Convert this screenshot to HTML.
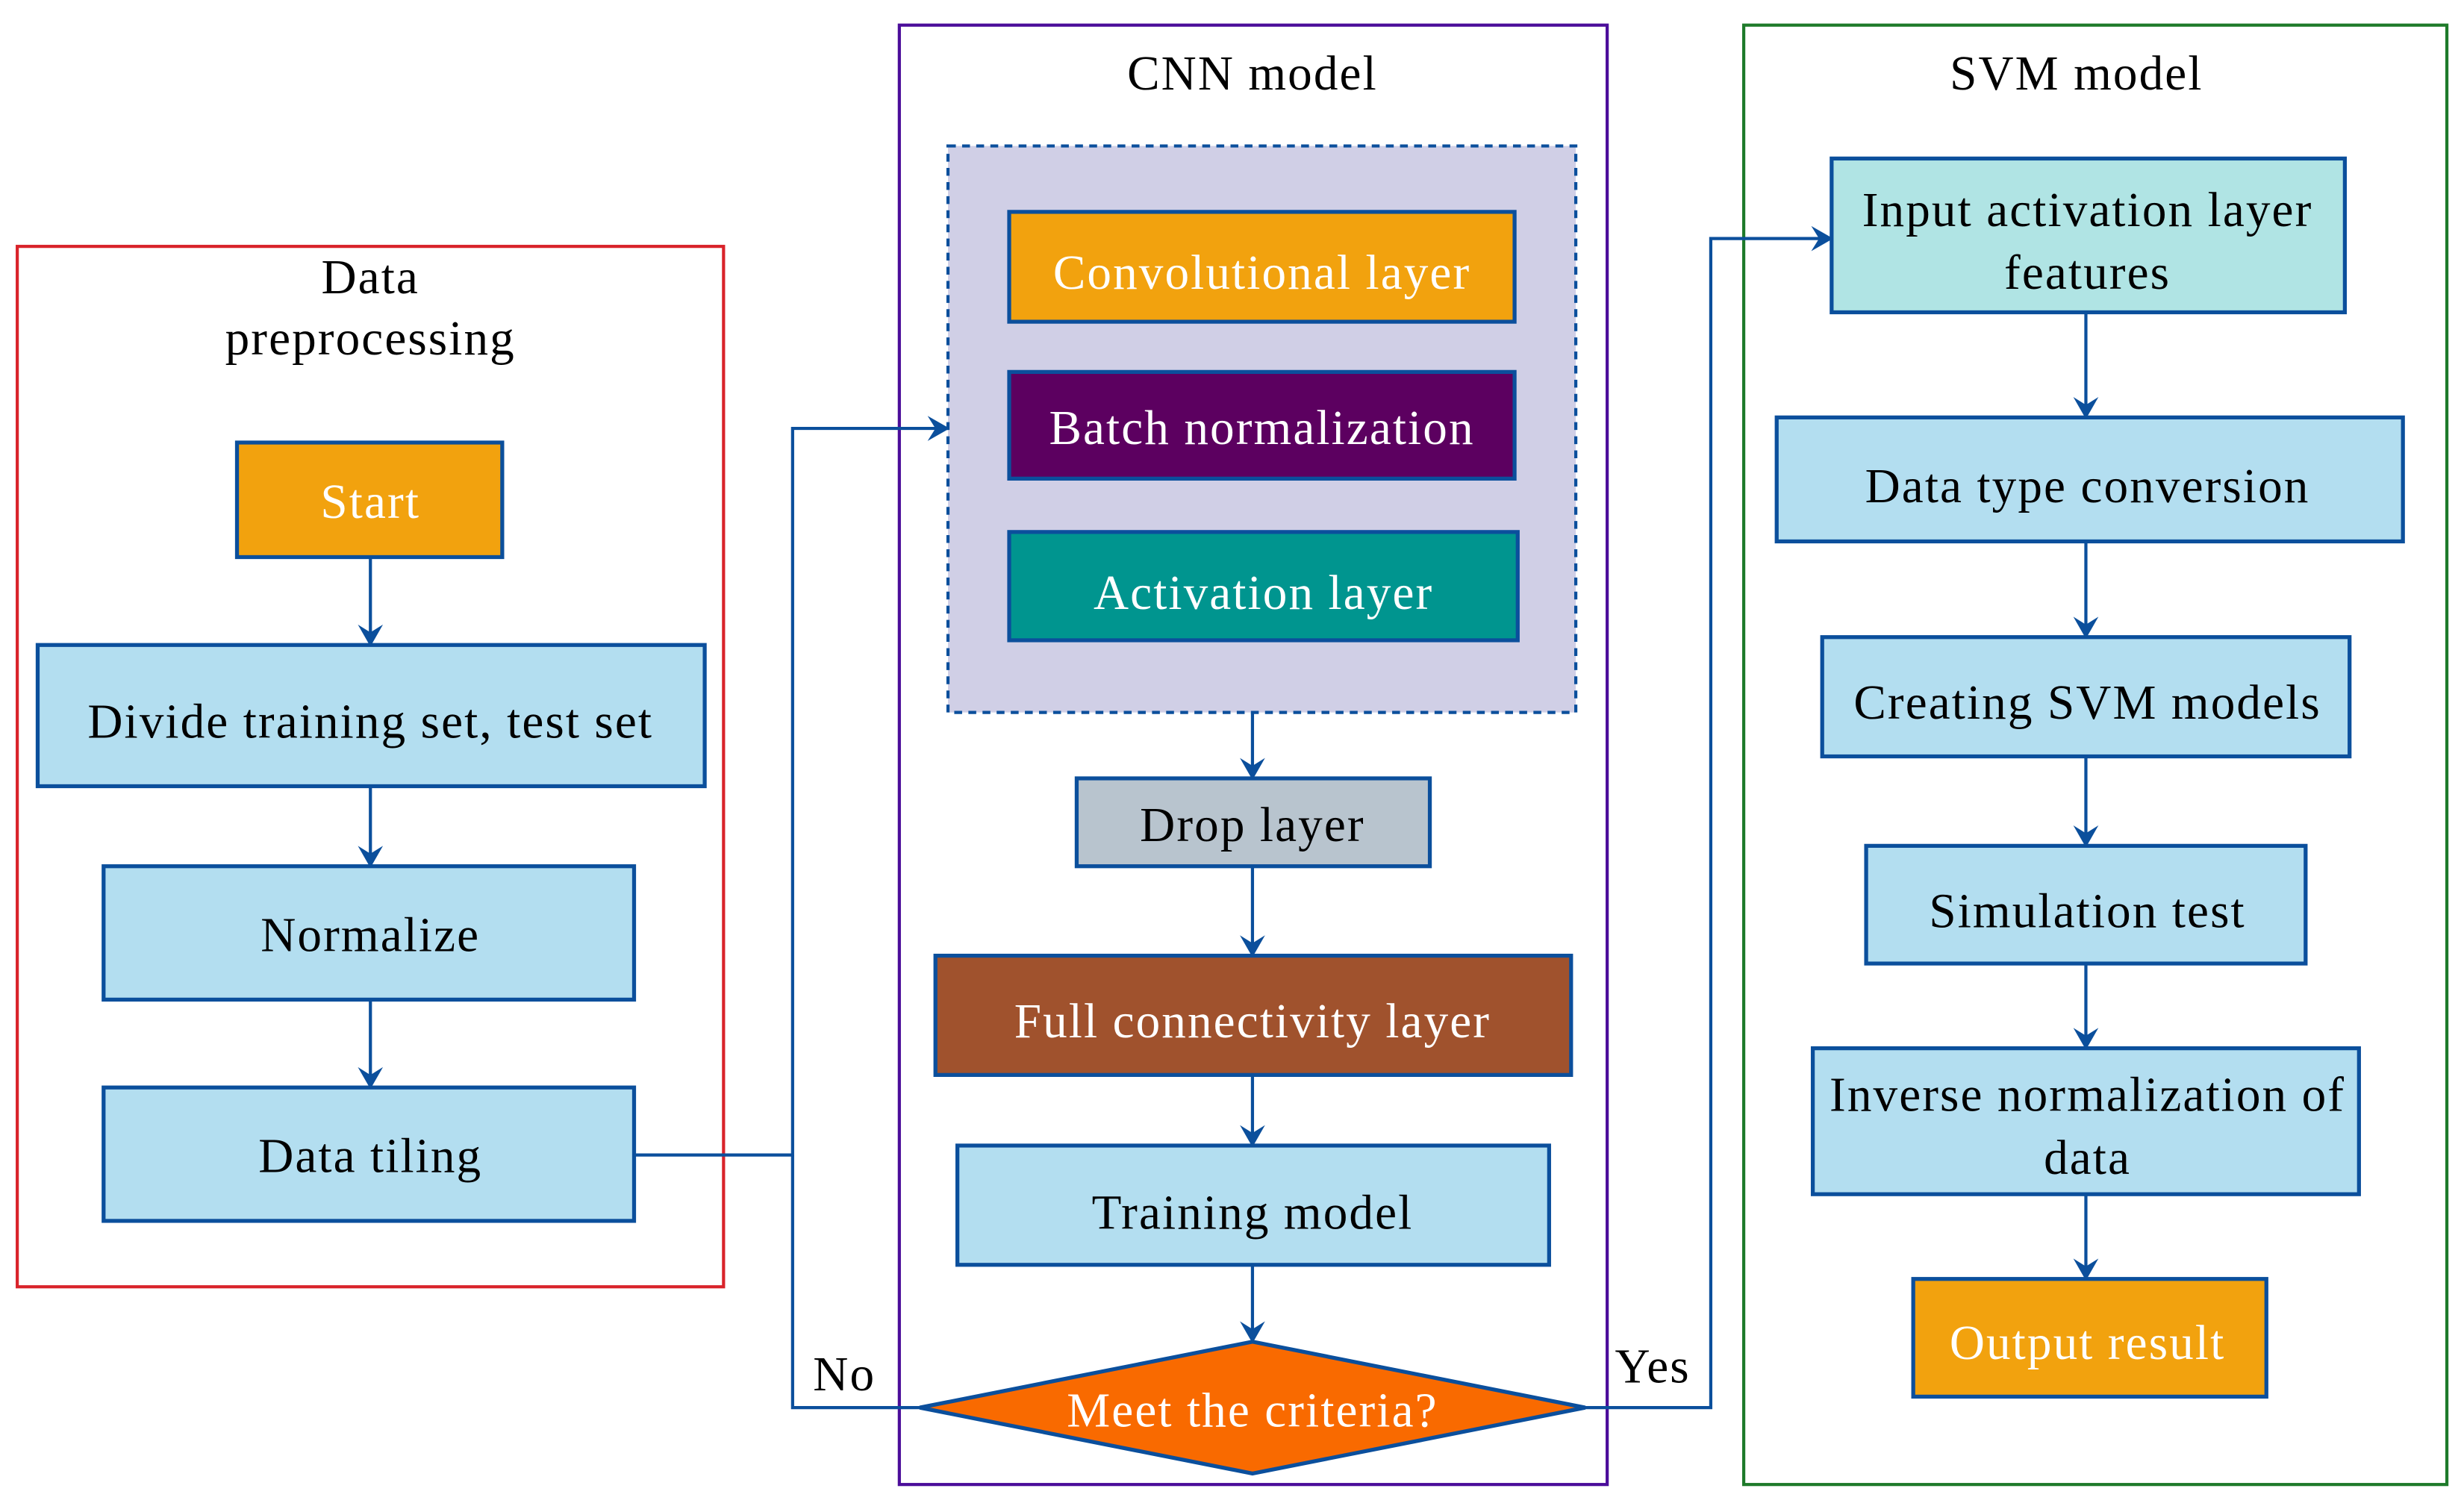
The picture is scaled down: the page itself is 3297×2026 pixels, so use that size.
<!DOCTYPE html>
<html><head><meta charset="utf-8"><style>html,body{margin:0;padding:0;background:#fff}svg{display:block}</style></head><body>
<svg width="3297" height="2026" viewBox="0 0 1568 963.5" xmlns="http://www.w3.org/2000/svg" font-family="Liberation Serif, serif" font-size="31" letter-spacing="1">
<defs><marker id="a" markerWidth="14" markerHeight="16" refX="13" refY="8" orient="auto" markerUnits="userSpaceOnUse"><path d="M0,0 L14,8 L0,16 L5,8 Z" fill="#0B4F9C"/></marker></defs>
<g fill="none" stroke-width="2">
<rect x="11" y="157" width="450" height="663" stroke="#D9232A"/>
<rect x="573" y="16" width="451" height="930" stroke="#4B0D9A"/>
<rect x="1111" y="16" width="448" height="930" stroke="#1E7A2A"/>
</g>
<rect x="604" y="93" width="400" height="361" fill="#D0CFE6" stroke="#0B4F9C" stroke-width="2" stroke-dasharray="5,4"/>
<g stroke="#0B4F9C" stroke-width="2.5">
<rect x="151" y="282" width="169" height="73" fill="#F2A20E"/>
<rect x="24" y="411" width="425" height="90" fill="#B3DEF0"/>
<rect x="66" y="552" width="338" height="85" fill="#B3DEF0"/>
<rect x="66" y="693" width="338" height="85" fill="#B3DEF0"/>
<rect x="643" y="135" width="322" height="70" fill="#F2A20E"/>
<rect x="643" y="237" width="322" height="68" fill="#5C0060"/>
<rect x="643" y="339" width="324" height="69" fill="#00958F"/>
<rect x="686" y="496" width="225" height="56" fill="#B8C4CE"/>
<rect x="596" y="609" width="405" height="76" fill="#A0522D"/>
<rect x="610" y="730" width="377" height="76" fill="#B3DEF0"/>
<polygon points="586,897 798,855 1010,897 798,939" fill="#F96A00"/>
<rect x="1167" y="101" width="327" height="98" fill="#B0E4E4"/>
<rect x="1132" y="266" width="399" height="79" fill="#B3DEF0"/>
<rect x="1161" y="406" width="336" height="76" fill="#B3DEF0"/>
<rect x="1189" y="539" width="280" height="75" fill="#B3DEF0"/>
<rect x="1155" y="668" width="348" height="93" fill="#B3DEF0"/>
<rect x="1219" y="815" width="225" height="75" fill="#F2A20E"/>
</g>
<g stroke="#0B4F9C" stroke-width="2" fill="none" marker-end="url(#a)">
<line x1="236" y1="355" x2="236" y2="411"/>
<line x1="236" y1="501" x2="236" y2="552"/>
<line x1="236" y1="637" x2="236" y2="693"/>
<line x1="798" y1="454" x2="798" y2="496"/>
<line x1="798" y1="552" x2="798" y2="609"/>
<line x1="798" y1="685" x2="798" y2="730"/>
<line x1="798" y1="806" x2="798" y2="855"/>
<polyline points="404,736 505,736 505,273 604,273"/>
<polyline points="1010,897 1090,897 1090,152 1167,152"/>
<line x1="1329" y1="199" x2="1329" y2="266"/>
<line x1="1329" y1="345" x2="1329" y2="406"/>
<line x1="1329" y1="482" x2="1329" y2="539"/>
<line x1="1329" y1="614" x2="1329" y2="668"/>
<line x1="1329" y1="761" x2="1329" y2="815"/>
</g>
<polyline points="586,897 505,897 505,736" stroke="#0B4F9C" stroke-width="2" fill="none"/>
<g text-anchor="middle" fill="#000">
<text x="236" y="187">Data</text>
<text x="236" y="226">preprocessing</text>
<text x="798" y="57">CNN model</text>
<text x="1323" y="57">SVM model</text>
<text x="538" y="886">No</text>
<text x="1053" y="881">Yes</text>
<text x="236" y="470">Divide training set, test set</text>
<text x="236" y="606">Normalize</text>
<text x="236" y="747">Data tiling</text>
<text x="798" y="536">Drop layer</text>
<text x="798" y="783">Training model</text>
<text x="1330" y="144">Input activation layer</text>
<text x="1330" y="184">features</text>
<text x="1330" y="320">Data type conversion</text>
<text x="1330" y="458">Creating SVM models</text>
<text x="1330" y="591">Simulation test</text>
<text x="1330" y="708">Inverse normalization of</text>
<text x="1330" y="748">data</text>
</g>
<g text-anchor="middle" fill="#fff">
<text x="236" y="330">Start</text>
<text x="804" y="184">Convolutional layer</text>
<text x="804" y="283">Batch normalization</text>
<text x="805" y="388">Activation layer</text>
<text x="798" y="661">Full connectivity layer</text>
<text x="798" y="909">Meet the criteria?</text>
<text x="1330" y="866">Output result</text>
</g>
</svg>
</body></html>
